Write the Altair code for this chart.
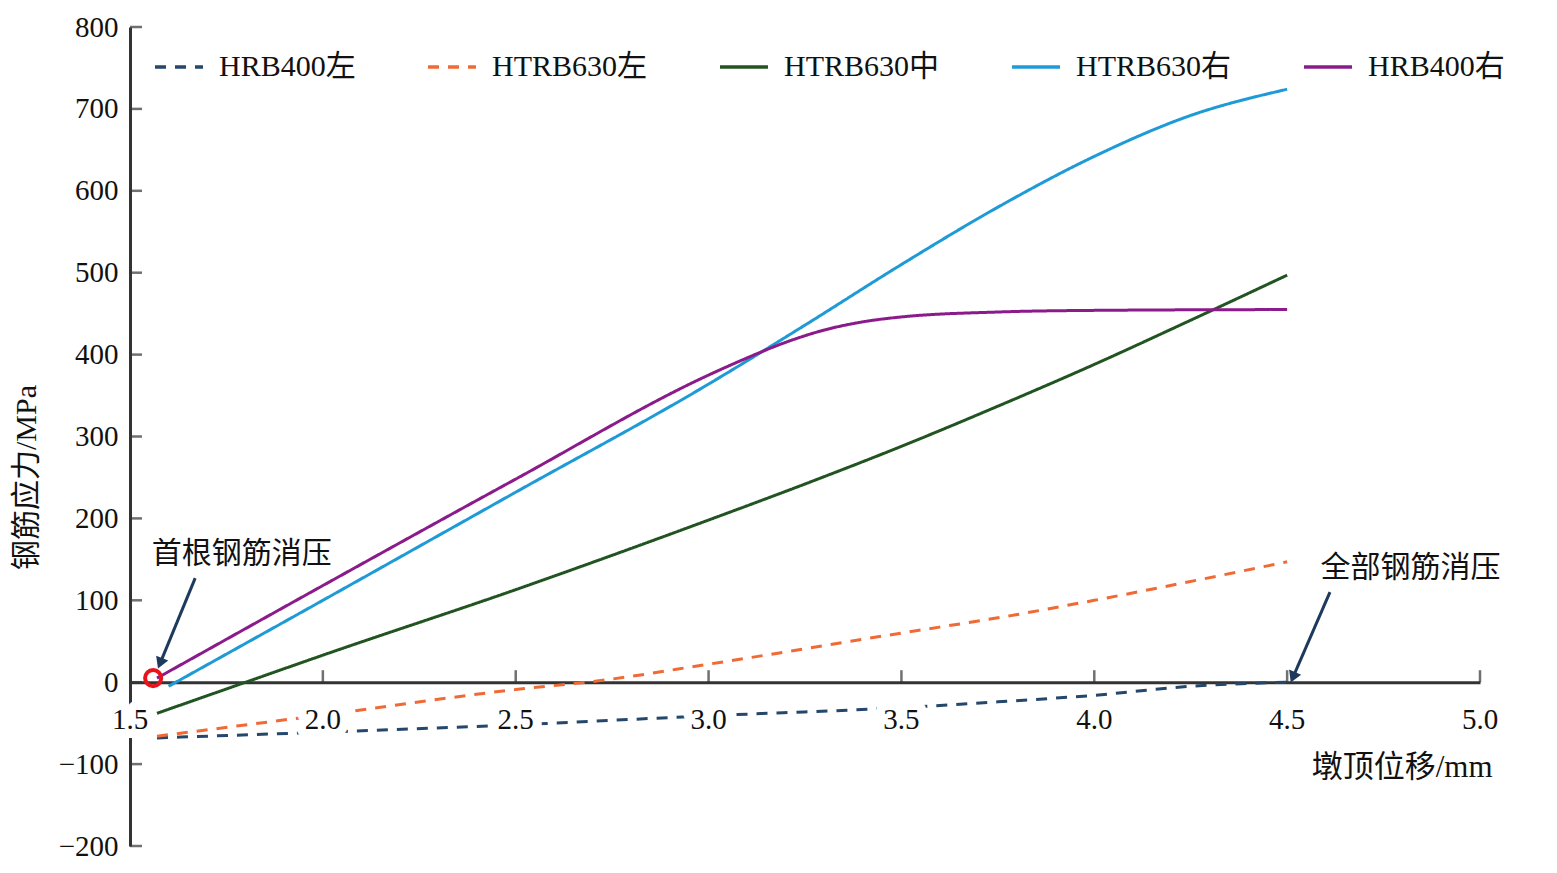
import altair as alt
import pandas as pd

# ---- data ----
series_names = ["HRB400左", "HTRB630左", "HTRB630中", "HTRB630右", "HRB400右"]
series_colors = ["#24476b", "#f06a35", "#215421", "#1e9ad6", "#8b1a8b"]
series_dash = [[11, 9], [11, 9], [1, 0], [1, 0], [1, 0]]

x_hrb400_left = [1.57, 2.0, 2.5, 3.0, 3.5, 3.75, 4.0, 4.25, 4.5]
y_hrb400_left = [-68, -61, -52, -41, -31, -24, -16, -5, 0]

x_htrb630_left = [1.57, 2.0, 2.5, 2.72, 3.0, 3.5, 3.78, 4.0, 4.5]
y_htrb630_left = [-66, -40, -9, 2, 22, 60, 81, 100, 147]

x_htrb630_mid = [1.57, 1.8, 2.0, 2.5, 3.0, 3.25, 3.5, 3.75, 4.0, 4.25, 4.5]
y_htrb630_mid = [-38, 0, 33, 113, 198, 242, 288, 337, 388, 442, 497]

x_htrb630_right = [1.6, 2.0, 2.5, 3.0, 3.25, 3.5, 3.75, 4.0, 4.25, 4.5]
y_htrb630_right = [-5, 100, 232, 364, 436, 510, 580, 642, 692, 724]

x_hrb400_right = [1.57, 2.0, 2.5, 3.0, 3.1, 3.2, 3.3, 3.4, 3.5, 3.75, 4.0, 4.5]
y_hrb400_right = [5, 118, 248, 375, 396, 415, 430, 440, 446, 452, 454, 455]

x_ticks = [1.5, 2.0, 2.5, 3.0, 3.5, 4.0, 4.5, 5.0]
y_ticks = [-200, -100, 0, 100, 200, 300, 400, 500, 600, 700, 800]

# annotations
first_point = {"x": 1.56, "y": 5}
ann_texts = ["首根钢筋消压", "全部钢筋消压"]
ann_text_x = [1.79, 4.82]
ann_text_y = [157, 139]
arrow_x1 = [1.669, 4.611]
arrow_y1 = [127, 110]
arrow_x2 = [1.578, 4.515]
arrow_y2 = [23, 6]
arrow_angle = [22, 23]

# ---- tables ----
rows = []
for name, xs, ys in zip(
    series_names,
    [x_hrb400_left, x_htrb630_left, x_htrb630_mid, x_htrb630_right, x_hrb400_right],
    [y_hrb400_left, y_htrb630_left, y_htrb630_mid, y_htrb630_right, y_hrb400_right],
):
    for xv, yv in zip(xs, ys):
        rows.append({"series": name, "x": xv, "y": yv})
df = pd.DataFrame(rows)

ann_df = pd.DataFrame({"text": ann_texts, "x": ann_text_x, "y": ann_text_y})
arrow_df = pd.DataFrame({"x1": arrow_x1, "y1": arrow_y1, "x2": arrow_x2,
                         "y2": arrow_y2, "angle": arrow_angle})
pt_df = pd.DataFrame([first_point])
xt_df = pd.DataFrame({"x": x_ticks[1:]})
xl_df = pd.DataFrame({"x": x_ticks})
yt_df = pd.DataFrame({"y": y_ticks})

FONT = "Liberation Serif, Noto Sans CJK SC"
AX = "#333333"

xscale = alt.Scale(domain=[1.5, 5.0], nice=False, zero=False)
yscale = alt.Scale(domain=[-200, 800], nice=False)

x_axis = alt.Axis(
    values=x_ticks, offset=-163.8, tickSize=0, grid=False, labels=False,
    domainColor=AX, domainWidth=3,
    title="墩顶位移/mm", titleFont=FONT, titleFontSize=31, titleFontWeight="normal",
    titleColor="#111", titleAnchor="end", titleAlign="right", titleX=1362, titleY=85,
    titleBaseline="middle",
)
y_axis = alt.Axis(
    values=y_ticks, tickSize=0, grid=False, labelFlush=False, labelPadding=12,
    labelFontSize=29, labelFont=FONT, labelColor="#111",
    domainColor=AX, domainWidth=3,
    title="钢筋应力/MPa", titleFont=FONT, titleFontSize=30, titleFontWeight="normal",
    titleColor="#111", titleX=-104, titleY=450, titleAngle=-90, titleBaseline="middle",
)

legend = alt.Legend(
    title=None, orient="none", legendX=23, legendY=14, direction="horizontal",
    columns=5, symbolType="stroke", symbolSize=2300, symbolStrokeWidth=3.5,
    labelFont=FONT, labelFontSize=30, labelColor="#111", labelOffset=14,
    columnPadding=65, labelLimit=400,
)

lines = alt.Chart(df).mark_line(interpolate="monotone", strokeWidth=3).encode(
    x=alt.X("x:Q", scale=xscale, axis=x_axis),
    y=alt.Y("y:Q", scale=yscale, axis=y_axis),
    color=alt.Color("series:N", scale=alt.Scale(domain=series_names, range=series_colors),
                    sort=series_names, legend=legend),
    strokeDash=alt.StrokeDash("series:N", scale=alt.Scale(domain=series_names, range=series_dash),
                              sort=series_names, legend=legend),
    detail="series:N",
)

xticks = alt.Chart(xt_df).mark_tick(orient="vertical", size=12, thickness=2.5,
                                    yOffset=-6, color=AX).encode(
    x=alt.X("x:Q", scale=xscale), y=alt.datum(0, scale=yscale)
)
yticks = alt.Chart(yt_df).mark_tick(orient="horizontal", size=12, thickness=2.5,
                                    xOffset=6, color=AX).encode(
    y=alt.Y("y:Q", scale=yscale), x=alt.datum(1.5, scale=xscale)
)

# x tick labels with white background (as in the reference figure)
xlab_halo = alt.Chart(xl_df).mark_text(
    font=FONT, fontSize=29, dy=38, baseline="middle", fill="white",
    stroke="white", strokeWidth=18, strokeJoin="round",
).encode(x=alt.X("x:Q", scale=xscale), y=alt.datum(0, scale=yscale),
         text=alt.Text("x:Q", format=".1f"))
xlab = alt.Chart(xl_df).mark_text(
    font=FONT, fontSize=29, dy=38, baseline="middle", color="#111",
).encode(x=alt.X("x:Q", scale=xscale), y=alt.datum(0, scale=yscale),
         text=alt.Text("x:Q", format=".1f"))

arrows = alt.Chart(arrow_df).mark_rule(strokeWidth=3, color="#1d3a5c").encode(
    x=alt.X("x1:Q", scale=xscale), y=alt.Y("y1:Q", scale=yscale),
    x2="x2:Q", y2="y2:Q",
)
heads = alt.Chart(arrow_df).mark_point(shape="triangle-down", filled=True, size=170,
                                       color="#1d3a5c", opacity=1).encode(
    x=alt.X("x2:Q", scale=xscale), y=alt.Y("y2:Q", scale=yscale),
    angle=alt.Angle("angle:Q", scale=None),
)
circle = alt.Chart(pt_df).mark_point(shape="circle", filled=False, size=260,
                                     strokeWidth=4, color="#e8141c", opacity=1).encode(
    x=alt.X("x:Q", scale=xscale), y=alt.Y("y:Q", scale=yscale)
)
texts = alt.Chart(ann_df).mark_text(font="Noto Sans CJK SC", fontSize=30,
                                    color="#111").encode(
    x=alt.X("x:Q", scale=xscale), y=alt.Y("y:Q", scale=yscale), text="text:N"
)

chart = alt.layer(lines, xticks, yticks, arrows, heads, circle, texts,
                  xlab_halo, xlab).properties(
    width=1350, height=819,
    background="white",
    autosize=alt.AutoSizeParams(type="none"),
    padding={"left": 122, "top": 19, "right": 69, "bottom": 19},
).configure_view(stroke=None)

chart.save("out.html", embed_options={"renderer": "svg", "actions": False})
